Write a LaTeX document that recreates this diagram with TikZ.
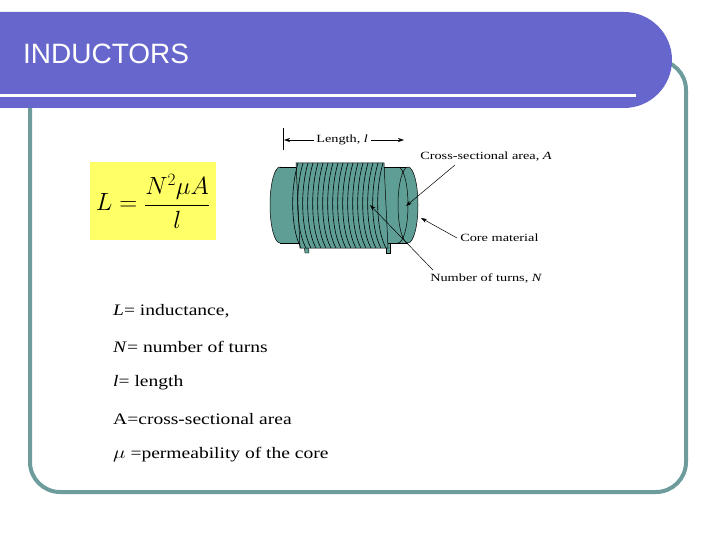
\documentclass[tikz,border=0pt]{standalone}
\usepackage{fontspec}
\setmainfont{Liberation Serif}
\newfontfamily\hsans{Liberation Sans}
\usetikzlibrary{arrows.meta}
\definecolor{band}{HTML}{6666CC}
\definecolor{frame}{HTML}{6E9C9C}
\definecolor{coil}{HTML}{5E9E94}
\definecolor{fyel}{HTML}{FFFF66}
\begin{document}
\begin{tikzpicture}[x=1pt,y=-1pt,
  lbl/.style={font=\fontsize{11}{12}\selectfont,inner sep=0pt,anchor=west,xscale=1.3},
  item/.style={font=\fontsize{16}{18}\selectfont,inner sep=0pt,anchor=west,xscale=1.22},
  ptr/.style={-{Stealth[length=6pt,width=4pt]},line width=0.5pt}]
\useasboundingbox (0,0) rectangle (720,540);
% frame
\draw[frame,line width=4pt,rounded corners=30] (30,60) rectangle (686,492);
% header
\fill[band] (0,12) -- (624,12) arc[start angle=-90,end angle=90,radius=48] -- (0,108) -- cycle;
\fill[white] (0,94) rectangle (636,97);
\node[inner sep=0pt,anchor=west,text=white,font=\hsans\fontsize{28}{32}\selectfont] (title) at (23,54) {INDUCTORS};
% formula
\fill[fyel] (90,162) rectangle (216,240);
\node[inner sep=0pt,font=\fontsize{27}{31}\selectfont] (eq) at (153,201) {$\displaystyle L=\frac{N^2\mu A}{l}$};
% list
\node[item] (i1) at (113,311) {\textit{L}= inductance,};
\node[item] (i2) at (113,347) {\textit{N}= number of turns};
\node[item] (i3) at (113,383) {\textit{l}= length};
\node[item] (i4) at (113,419) {A=cross-sectional area};
\node[item] (i5) at (113,455) {$\mu$ =permeability of the core};
% inductor
\fill[coil,draw=black,line width=0.4pt] (303,236) -- (305,253) -- (309,253) -- (308,236) -- cycle;
\fill[coil,draw=black,line width=0.4pt] (386,236) -- (386,253) -- (390,253) -- (390,236) -- cycle;
\fill[coil,draw=black,line width=0.5pt] (280,205) ellipse[x radius=10,y radius=38];
\fill[coil] (280,167) rectangle (408,243);
\draw[line width=0.5pt] (280,167) -- (408,167) (280,243) -- (408,243);
\fill[coil,draw=black,line width=0.5pt] (408,205) ellipse[x radius=10,y radius=38];
\fill[coil,draw=black,line width=0.5pt] (296,163) -- (384,163) -- (388,248) -- (300,248) -- cycle;
\foreach \i in {0,...,17}{
  \draw[black,line width=0.6pt] ({298+5*\i},163) .. controls ({290+5*\i},190) and ({291+5*\i},230) .. ({301+5*\i},248);
}
\draw[black,line width=0.5pt] (398,167) arc[start angle=-90,end angle=90,x radius=10,y radius=38];
% labels
\draw[line width=0.5pt] (283,128) -- (283,150);
\node[lbl] (len) at (316,140) {Length, \textit{l}};
\coordinate (la) at (284,140);
\coordinate (ra) at (404,140);
\draw[ptr] (len.west) ++(-2,0) -- (la);
\draw[ptr] (len.east) ++(3,0) -- (ra);
\node[lbl] (cs) at (420,157) {Cross-sectional area, \textit{A}};
\node[lbl] (cm) at (460,238) {Core material};
\node[lbl] (nt) at (430,278) {Number of turns, \textit{N}};
\coordinate (csP) at (406,206);
\coordinate (cmP) at (421,218);
\coordinate (ntP) at (370,205);
\draw[ptr] (455,165) -- (csP);
\draw[ptr] (cm.west) ++(-3,0) -- (cmP);
\draw[ptr] (nt.north west) ++(3,-3) -- (ntP);
\end{tikzpicture}
\end{document}
